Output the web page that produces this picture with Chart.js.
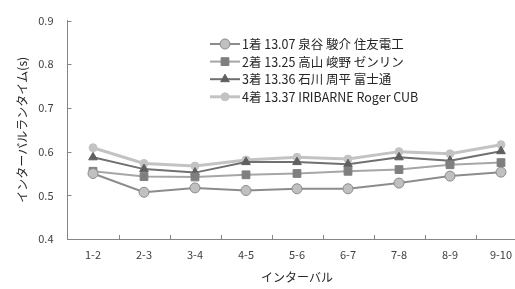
<!DOCTYPE html>
<html><head><meta charset="utf-8">
<script src="https://cdn.jsdelivr.net/npm/chart.js@4/dist/chart.umd.min.js"></script>
<style>html,body{margin:0;padding:0;overflow:hidden;background:#fff;width:515px;height:289px}canvas{display:block}</style>
</head><body>
<canvas id="c" width="535" height="289"></canvas>
<script>
const categories = ["1-2","2-3","3-4","4-5","5-6","6-7","7-8","8-9","9-10"];
const seriesLabels = ["1着 13.07 泉谷 駿介 住友電工","2着 13.25 高山 峻野 ゼンリン","3着 13.36 石川 周平 富士通","4着 13.37 IRIBARNE Roger CUB"];
const s1 = [0.550,0.507,0.517,0.511,0.515,0.515,0.528,0.544,0.553];
const s2 = [0.555,0.543,0.542,0.547,0.550,0.555,0.559,0.570,0.575];
const s3 = [0.587,0.560,0.552,0.576,0.576,0.571,0.587,0.579,0.601];
const s4 = [0.609,0.573,0.567,0.581,0.587,0.583,0.600,0.595,0.616];
const yTicks = [0.4,0.5,0.6,0.7,0.8,0.9];

const FONT = "'Noto Sans CJK JP', 'Noto Sans', sans-serif";
const AXIS = '#868686';

const innerTicks = {
  id:'innerTicks',
  afterDraw(chart){
    const ctx = chart.ctx, a = chart.chartArea, y = chart.scales.y;
    ctx.save();
    ctx.strokeStyle = AXIS; ctx.lineWidth = 1;
    ctx.beginPath();
    const n = categories.length, w = (a.right - a.left)/n;
    for(let i=1;i<n;i++){ const px = Math.round(a.left + i*w)+0.5; ctx.moveTo(px,a.bottom); ctx.lineTo(px,a.bottom-4); }
    yTicks.forEach(v=>{ const py = Math.round(y.getPixelForValue(v))+0.5; ctx.moveTo(a.left,py); ctx.lineTo(a.left+4,py); });
    ctx.stroke();
    ctx.restore();
  }
};

const lineLegend = {
  id:'lineLegend',
  afterDraw(chart){
    const ctx = chart.ctx;
    const x0 = 210, y0 = 44, dy = 17.6;
    ctx.save();
    chart.data.datasets.forEach((ds,i)=>{
      const yy = y0 + i*dy;
      ctx.strokeStyle = ds.borderColor; ctx.lineWidth = ds.borderWidth;
      ctx.beginPath(); ctx.moveTo(x0,yy); ctx.lineTo(x0+30,yy); ctx.stroke();
      ctx.fillStyle = ds.pointBackgroundColor; ctx.strokeStyle = ds.pointBorderColor; ctx.lineWidth = ds.pointBorderWidth;
      Chart.helpers.drawPoint(ctx,{pointStyle:ds.pointStyle,radius:ds.pointRadius,rotation:0,borderWidth:ds.pointBorderWidth},x0+15,yy);
      ctx.fillStyle = '#262626'; ctx.font = "12.5px " + FONT; ctx.textBaseline = 'middle'; ctx.textAlign='left';
      ctx.fillText(ds.label, x0+32, yy+0.5);
    });
    ctx.restore();
  }
};

new Chart(document.getElementById('c'),{
  type:'line',
  data:{
    labels:categories,
    datasets:[
      {label:seriesLabels[0],data:s1,borderColor:'#8c8c8c',borderWidth:2,pointStyle:'circle',pointRadius:5,pointBackgroundColor:'#c0c0c0',pointBorderColor:'#8c8c8c',pointBorderWidth:1},
      {label:seriesLabels[1],data:s2,borderColor:'#a6a6a6',borderWidth:2,pointStyle:'rect',pointRadius:5.5,pointBackgroundColor:'#7f7f7f',pointBorderColor:'#7f7f7f',pointBorderWidth:1},
      {label:seriesLabels[2],data:s3,borderColor:'#707070',borderWidth:2,pointStyle:'triangle',pointRadius:5,pointBackgroundColor:'#5f5f5f',pointBorderColor:'#5f5f5f',pointBorderWidth:1},
      {label:seriesLabels[3],data:s4,borderColor:'#c3c3c3',borderWidth:3,pointStyle:'circle',pointRadius:4,pointBackgroundColor:'#c3c3c3',pointBorderColor:'#c3c3c3',pointBorderWidth:1}
    ]
  },
  options:{
    responsive:false,animation:false,
    layout:{padding:{left:0,right:8.5,top:16,bottom:0}},
    elements:{line:{tension:0}},
    plugins:{legend:{display:false},tooltip:{enabled:false}},
    scales:{
      x:{
        offset:true,
        afterFit:s=>{s.height=50;},
        grid:{display:false,drawTicks:false},
        border:{display:true,color:AXIS,width:1},
        ticks:{color:'#404040',font:{family:FONT,size:11},padding:9,maxRotation:0,autoSkip:false},
        title:{display:true,text:'インターバル',color:'#262626',font:{family:FONT,size:12},padding:{top:0,bottom:4}}
      },
      y:{
        min:0.4,max:0.9,
        afterFit:s=>{s.width=67.5;},
        afterBuildTicks:s=>{s.ticks=yTicks.map(v=>({value:v}));},
        grid:{display:false,drawTicks:false},
        border:{display:true,color:AXIS,width:1},
        ticks:{color:'#404040',font:{family:FONT,size:11},padding:14,callback:v=>v.toFixed(1)},
        title:{display:true,text:'インターバルランタイム(s)',color:'#262626',font:{family:FONT,size:12},padding:{top:15,bottom:0}}
      }
    }
  },
  plugins:[innerTicks,lineLegend]
});
</script>
</body></html>
